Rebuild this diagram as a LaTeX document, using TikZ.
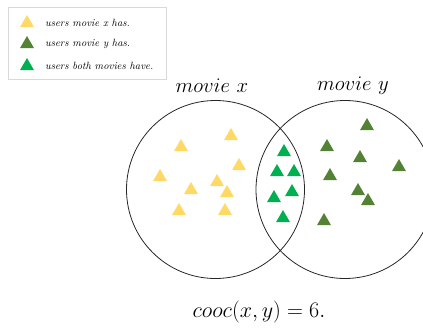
\documentclass[tikz,border=0pt]{standalone}
\usetikzlibrary{shapes}
\usetikzlibrary{arrows}
\definecolor{xgold}{HTML}{FFD966}
\definecolor{ygreen}{HTML}{548235}
\definecolor{bgreen}{HTML}{00B050}

\begin{document}
\begin{tikzpicture}[x=1pt,y=-1pt]
		\tikzstyle{tri}=[regular polygon,regular polygon sides=3,minimum size=16pt,inner sep=0pt]
		\tikzstyle{xtri}=[tri,fill=xgold]
		\tikzstyle{ytri}=[tri,fill=ygreen]
		\tikzstyle{btri}=[tri,fill=bgreen]
		\tikzstyle{movie}=[circle,draw=black!85,line width=0.8pt,minimum size=178pt,inner sep=0pt]
		\tikzstyle{legtext}=[anchor=west,inner sep=0pt,font=\fontsize{10.5}{12}\selectfont\itshape]
		\tikzstyle{big}=[font=\fontsize{22}{26}\selectfont]
		\useasboundingbox (0,0) rectangle (423,327);
		
		% legend
		\node[draw=black!15,fill=white,minimum width=158pt,minimum height=72pt,inner sep=0pt,anchor=north west](legend) at (8,7) {};
		\node[xtri](lx) at (27,23) {};
		\node[ytri](ly) at (27,44) {};
		\node[btri](lb) at (27,66) {};
		\node[legtext] at (45,23) {users movie x has.};
		\node[legtext] at (45,44) {users movie y has.};
		\node[legtext] at (45,66) {users both movies have.};
		
		% the two sets
		\node[movie](mx) at (215.5,189.5) {};
		\node[movie](my) at (345,189.5) {};
		\node[big](tx) at (212,86) {$movie\ x$};
		\node[big](ty) at (353,86) {$movie\ y$};
		
		\foreach \px/\py [count=\i] in {231/136,181/147,239/166,160/177,217/182,191/190,227/193,179/211,225/211}
			\node[xtri](x\i) at (\px,\py) {};
		\foreach \px/\py [count=\i] in {367/126,327/147,360/158,399/167,330/176,358/191,368/201,324/221}
			\node[ytri](y\i) at (\px,\py) {};
		\foreach \px/\py [count=\i] in {284/152,277/172,294/172,292/192,274/198,283/218}
			\node[btri](b\i) at (\px,\py) {};
		
		\node[big](cooc) at (259,312) {\scalebox{1.065}{$cooc(x,y)=6.$}};
\end{tikzpicture}
\end{document}
